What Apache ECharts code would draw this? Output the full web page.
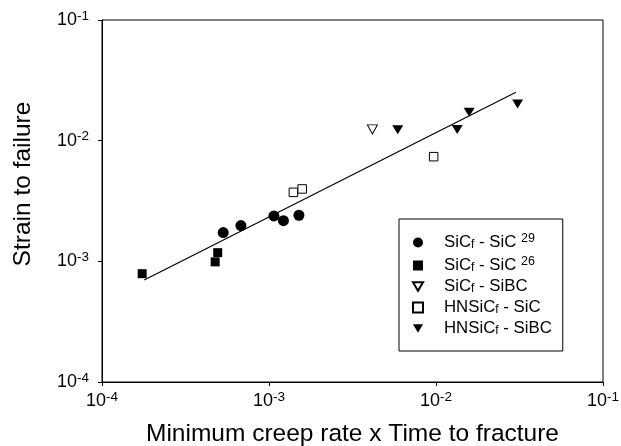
<!DOCTYPE html>
<html>
<head>
<meta charset="utf-8">
<script src="https://cdn.jsdelivr.net/npm/echarts@6/dist/echarts.min.js"></script>
<style>
html,body{margin:0;padding:0;background:#fff;}
#chart{width:621px;height:446px;}
</style>
</head>
<body>
<div id="chart"></div>
<script>
// ---- data ----
const seriesNames = ['SiCf - SiC 29', 'SiCf - SiC 26', 'SiCf - SiBC', 'HNSiCf - SiC', 'HNSiCf - SiBC'];
const sicSic29X = [5.32e-4, 6.79e-4, 1.07e-3, 1.22e-3, 1.51e-3];
const sicSic29Y = [1.73e-3, 1.98e-3, 2.38e-3, 2.17e-3, 2.41e-3];
const sicSic26X = [1.74e-4, 4.93e-4, 4.76e-4];
const sicSic26Y = [7.9e-4, 1.18e-3, 9.9e-4];
const sicSibcX = [4.16e-3];
const sicSibcY = [1.24e-2];
const hnSicX = [1.40e-3, 1.58e-3, 9.68e-3];
const hnSicY = [3.73e-3, 3.98e-3, 7.37e-3];
const hnSibcX = [5.90e-3, 1.34e-2, 1.58e-2, 3.08e-2];
const hnSibcY = [1.23e-2, 1.24e-2, 1.72e-2, 2.01e-2];
const fitLineX = [1.79e-4, 3.01e-2];
const fitLineY = [7.01e-4, 2.52e-2];
const tickExponents = [-4, -3, -2, -1];
const legendLabels = [
  'SiC{sub|f} - SiC {sup|29}',
  'SiC{sub|f} - SiC {sup|26}',
  'SiC{sub|f} - SiBC',
  'HNSiC{sub|f} - SiC',
  'HNSiC{sub|f} - SiBC'
];

function pairs(xs, ys) { return xs.map((x, i) => [x, ys[i]]); }

const FONT = '"Liberation Sans", Arial, sans-serif';
const DOWN_TRI = 'path://M0,0L10,0L5,8.5Z';
const chart = echarts.init(document.getElementById('chart'), null, {renderer: 'canvas'});

function tickLabel(v) {
  const e = Math.round(Math.log10(v));
  if (tickExponents.indexOf(e) < 0) return '';
  return '{b|10}{sup|' + e + '}';
}

const labelRich = {
  b: {fontSize: 18, fontFamily: FONT, color: '#000'},
  sup: {fontSize: 13.5, fontFamily: FONT, color: '#000', padding: [0, 0, 8, 0]}
};

const option = {
  animation: false,
  backgroundColor: '#fff',
  grid: {left: 102, right: 18, top: 20, bottom: 64, show: true, borderColor: '#000', borderWidth: 1,
         containLabel: false, outerBoundsMode: 'none'},
  xAxis: {
    type: 'log', logBase: 10, min: 1e-4, max: 1e-1,
    name: 'Minimum creep rate x Time to fracture',
    nameLocation: 'middle', nameGap: 40,
    nameTextStyle: {fontSize: 24.5, fontFamily: FONT, color: '#000'},
    axisLine: {show: true, lineStyle: {color: '#000', width: 1}},
    axisTick: {show: true, length: 4, inside: false, lineStyle: {color: '#000'}},
    minorTick: {show: false},
    splitLine: {show: false},
    axisLabel: {fontSize: 18, fontFamily: FONT, color: '#000', margin: 8, formatter: tickLabel, rich: labelRich}
  },
  yAxis: {
    type: 'log', logBase: 10, min: 1e-4, max: 1e-1,
    name: 'Strain to failure',
    nameLocation: 'middle', nameGap: 66,
    nameTextStyle: {fontSize: 24.5, fontFamily: FONT, color: '#000', padding: [0, 0, 0, 34]},
    axisLine: {show: true, lineStyle: {color: '#000', width: 1}},
    axisTick: {show: true, length: 4, inside: false, lineStyle: {color: '#000'}},
    minorTick: {show: false},
    splitLine: {show: false},
    axisLabel: {fontSize: 18, fontFamily: FONT, color: '#000', margin: 13, formatter: tickLabel, rich: labelRich}
  },
  legend: {
    data: [
      {name: seriesNames[0], icon: 'circle'},
      {name: seriesNames[1], icon: 'rect'},
      {name: seriesNames[2], icon: DOWN_TRI},
      {name: seriesNames[3], icon: 'rect'},
      {name: seriesNames[4], icon: DOWN_TRI}
    ],
    orient: 'vertical',
    left: 399, top: 219,
    padding: [13, 11, 14, 13],
    borderColor: '#000', borderWidth: 1,
    itemWidth: 10, itemHeight: 10, itemGap: 4,
    symbolKeepAspect: true,
    formatter: name => legendLabels[seriesNames.indexOf(name)],
    textStyle: {
      fontSize: 16.8, fontFamily: FONT, color: '#000', lineHeight: 17, padding: [0, 0, 0, 16],
      rich: {
        sub: {fontSize: 12, fontFamily: FONT, color: '#000', padding: [0, 0, -5, 0]},
        sup: {fontSize: 12.5, fontFamily: FONT, color: '#000', padding: [0, 0, 8, 0]}
      }
    }
  },
  series: [
    {type: 'line', data: pairs(fitLineX, fitLineY), showSymbol: false, symbol: 'none',
     lineStyle: {color: '#000', width: 1.2}, z: 1, silent: true},
    {name: seriesNames[0], type: 'scatter', data: pairs(sicSic29X, sicSic29Y),
     symbol: 'circle', symbolSize: 11, itemStyle: {color: '#000', opacity: 1}, z: 3},
    {name: seriesNames[1], type: 'scatter', data: pairs(sicSic26X, sicSic26Y),
     symbol: 'rect', symbolSize: 9, itemStyle: {color: '#000', opacity: 1}, z: 3},
    {name: seriesNames[2], type: 'scatter', data: pairs(sicSibcX, sicSibcY),
     symbol: 'triangle', symbolSize: [10, 9], symbolRotate: 180,
     itemStyle: {color: '#fff', borderColor: '#000', borderWidth: 1, opacity: 1}, z: 3},
    {name: seriesNames[3], type: 'scatter', data: pairs(hnSicX, hnSicY),
     symbol: 'rect', symbolSize: 8.5,
     itemStyle: {color: '#fff', borderColor: '#000', borderWidth: 1, opacity: 1}, z: 3},
    {name: seriesNames[4], type: 'scatter', data: pairs(hnSibcX, hnSibcY),
     symbol: 'triangle', symbolSize: [11, 9], symbolRotate: 180,
     itemStyle: {color: '#000', opacity: 1}, z: 3}
  ]
};
chart.setOption(option);
</script>
</body>
</html>
